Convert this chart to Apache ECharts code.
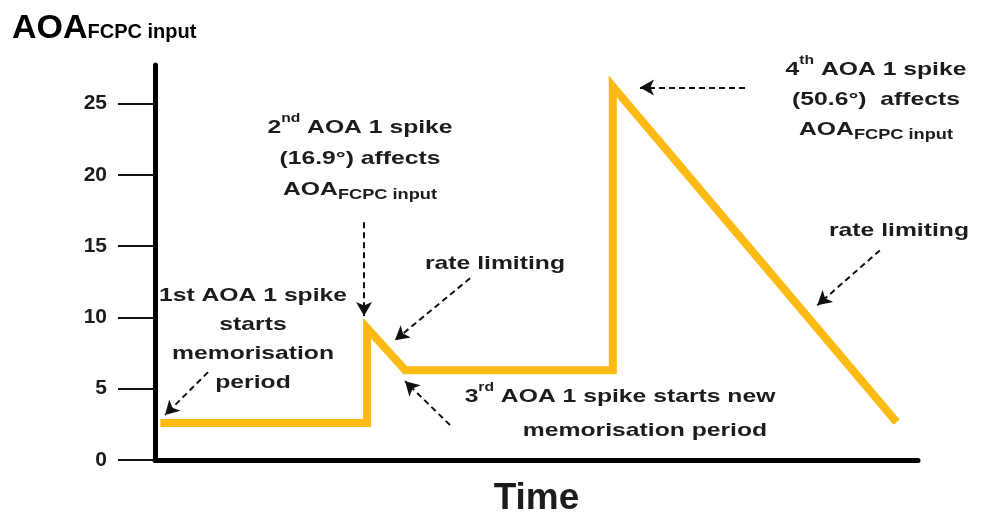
<!DOCTYPE html>
<html>
<head>
<meta charset="utf-8">
<script src="https://cdn.jsdelivr.net/npm/echarts@6/dist/echarts.min.js"></script>
<style>
  html, body { margin: 0; padding: 0; background: #fff; }
  #chart { width: 993px; height: 515px; }
</style>
</head>
<body>
<div id="chart"></div>
<script>
// time axis is unitless, 0..100 across the plot
const timeVals = [0.7, 27.8, 27.8, 32.8, 60.0, 60.0, 97.2];
const aoaVals = [2.6, 2.6, 9.25, 6.3, 6.3, 26.2, 2.66];
const yTicks = [0, 5, 10, 15, 20, 25];

// annotation arrows: [from, to] in data coords
const arrows = [
  [[6.95, 6.16], [1.31, 3.15]],
  [[27.4, 16.67], [27.4, 10.1]],
  [[41.3, 12.75], [31.45, 8.4]],
  [[38.66, 2.45], [32.77, 5.53]],
  [[77.33, 26.12], [63.56, 26.12]],
  [[95.0, 14.7], [86.8, 10.85]]
];

const FONT = '"Liberation Sans", Arial, sans-serif';
const INK = '#1c1c1c';

let chart = echarts.init(document.getElementById('chart'));

// helper for the stretched annotation texts
function note(x, y, text, lh) {
  lh = lh || 30;
  return {
    type: 'text',
    x: x,
    y: y,
    scaleX: 1.3,
    style: {
      text: text,
      align: 'center',
      verticalAlign: 'middle',
      fill: INK,
      font: 'bold 19px ' + FONT,
      lineHeight: lh,
      rich: {
        t: { fontFamily: FONT, fontWeight: 'bold', fontSize: 19, fill: INK, lineHeight: lh },
        sup: { fontFamily: FONT, fontWeight: 'bold', fontSize: 12, fill: INK, verticalAlign: 'top', lineHeight: 22 },
        sub: { fontFamily: FONT, fontWeight: 'bold', fontSize: 14, fill: INK, verticalAlign: 'bottom', padding: [0, 0, 3, 0] }
      }
    }
  };
}

chart.setOption({
  animation: false,
  backgroundColor: '#fff',
  grid: { left: 155, right: 75, top: 65, bottom: 55, outerBoundsMode: 'none', containLabel: false },
  xAxis: {
    type: 'value',
    min: 0,
    max: 100,
    name: 'Time',
    nameLocation: 'middle',
    nameGap: 20,
    nameTextStyle: { fontFamily: FONT, fontWeight: 'bold', fontSize: 37, color: INK, verticalAlign: 'top' },
    axisLine: { show: true, lineStyle: { color: '#000', width: 5 } },
    axisTick: { show: false },
    axisLabel: { show: false },
    splitLine: { show: false }
  },
  yAxis: {
    type: 'value',
    min: 0,
    max: 27.7,
    axisLine: { show: true, lineStyle: { color: '#000', width: 5 } },
    axisTick: { show: true, length: 37, customValues: yTicks, lineStyle: { color: '#111', width: 2 } },
    axisLabel: {
      customValues: yTicks,
      margin: 48,
      fontFamily: FONT,
      fontWeight: 'bold',
      fontSize: 21,
      color: INK
    },
    splitLine: { show: false }
  },
  series: [{
    type: 'line',
    data: timeVals.map((t, i) => [t, aoaVals[i]]),
    showSymbol: false,
    lineStyle: { color: '#FDBA12', width: 8, join: 'miter' },
    markLine: {
      silent: true,
      symbol: ['none', 'arrow'],
      symbolSize: [12, 14],
      label: { show: false },
      lineStyle: { color: '#111', width: 2, type: [6, 4] },
      data: arrows.map(a => [{ coord: a[0] }, { coord: a[1] }])
    }
  }],
  graphic: [
    {
      type: 'text',
      x: 12,
      y: 28,
      style: {
        text: '{a|AOA}{s|FCPC input}',
        verticalAlign: 'middle',
        rich: {
          a: { fontFamily: FONT, fontWeight: 'bold', fontSize: 34, fill: '#000', verticalAlign: 'bottom', lineHeight: 36 },
          s: { fontFamily: FONT, fontWeight: 'bold', fontSize: 20, fill: '#000', verticalAlign: 'bottom', padding: [0, 0, 4, 0] }
        }
      }
    },
    note(253, 339, '{t|1st AOA 1 spike}\n{t|starts}\n{t|memorisation}\n{t|period}', 29),
    note(360, 159, '{t|2}{sup|nd}{t| AOA 1 spike}\n{t|(16.9°) affects}\n{t|AOA}{sub|FCPC input}', 31),
    note(495, 264, '{t|rate limiting}'),
    note(620, 397, '{t|3}{sup|rd}{t| AOA 1 spike starts new}'),
    note(645, 431, '{t|memorisation period}'),
    note(876, 100, '{t|4}{sup|th}{t| AOA 1 spike}\n{t|(50.6°)  affects}\n{t|AOA}{sub|FCPC input}', 30),
    note(899, 231, '{t|rate limiting}')
  ]
});
</script>
</body>
</html>
